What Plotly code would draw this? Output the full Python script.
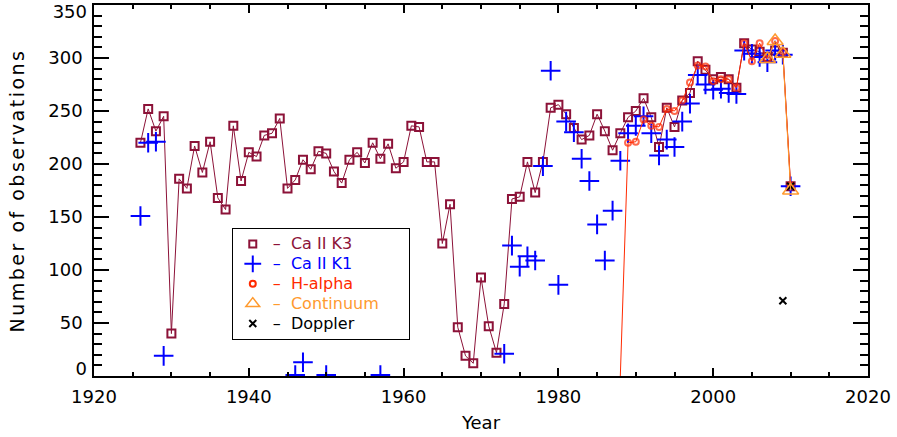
import plotly.graph_objects as go

# ---- data ----
k3_years = list(range(1926, 2011))
k3_obs = [220, 252, 231, 245, 40, 186, 177, 217, 192, 221,
          168, 157, 236, 184, 211, 207, 227, 229, 243, 177,
          185, 204, 195, 212, 210, 193, 182, 204, 211, 201,
          220, 205, 219, 196, 202, 236, 235, 202, 202, 125,
          162, 46, 19, 12, 93, 47, 22, 68, 167, 169,
          202, 173, 202, 253, 256, 247, 234, 223, 227, 247,
          231, 213, 229, 244, 250, 262, 244, 216, 253, 235,
          260, 267, 297, 289, 280, 282, 280, 272, 314, 308,
          306, 301, 307, 305, 179]

k1_years = [1926, 1927, 1928, 1929, 1946, 1947, 1950, 1957,
            1973, 1974, 1975, 1976, 1977, 1978, 1979, 1980, 1981, 1982,
            1983, 1984, 1985, 1986, 1987, 1988, 1989, 1990, 1991, 1992,
            1993, 1994, 1995, 1996, 1997, 1998, 1999, 2000, 2001, 2002,
            2003, 2004, 2005, 2006, 2007, 2008, 2009, 2010]
k1_obs = [151, 220, 221, 19, 1, 13, 1, 1,
          21, 123, 103, 113, 109, 198, 288, 86, 240, 230,
          205, 184, 143, 109, 156, 203, 229, 236, 245, 229,
          208, 223, 216, 240, 257, 284, 275, 270, 271, 267,
          266, 307, 304, 301, 296, 307, 303, 179]

ha_years = list(range(1988, 2011))
ha_obs = [0, 220, 221, 242, 236, 235, 252, 250, 260, 277,
          293, 292, 278, 280, 280, 272, 314, 297, 314, 299,
          316, 306, 180]

cont_years = [2007, 2008, 2009, 2010]
cont_obs = [299, 316, 304, 175]

dop_years = [2009, 2010]
dop_obs = [71, 179]

x_ticks = [1920, 1940, 1960, 1980, 2000, 2020]
y_ticks = [50, 100, 150, 200, 250, 300]

C_K3 = "#8C1238"
C_K1 = "#0000FF"
C_HA = "#FF2A00"
C_CO = "#FF9A2E"
C_DO = "#000000"

fig = go.Figure()

fig.add_trace(go.Scatter(
    x=k3_years, y=k3_obs, mode="lines+markers",
    line=dict(color=C_K3, width=1),
    marker=dict(symbol="square-open", size=8, color=C_K3, line=dict(width=2, color=C_K3)),
    showlegend=False))
fig.add_trace(go.Scatter(
    x=k1_years, y=k1_obs, mode="markers",
    marker=dict(symbol="cross-thin", size=14, color=C_K1, line=dict(width=2, color=C_K1)),
    showlegend=False))
# the first H-alpha point sits on the axis without a visible symbol
ha_sizes = [0] + [6] * (len(ha_years) - 1)
fig.add_trace(go.Scatter(
    x=ha_years, y=ha_obs, mode="lines+markers",
    line=dict(color=C_HA, width=1),
    marker=dict(symbol="circle-open", size=ha_sizes, color=C_HA, line=dict(width=2, color=C_HA)),
    showlegend=False))
fig.add_trace(go.Scatter(
    x=cont_years, y=cont_obs, mode="lines+markers", yaxis="y3",
    line=dict(color=C_CO, width=1),
    marker=dict(symbol="triangle-up-open", size=14, color=C_CO, line=dict(width=1.5, color=C_CO)),
    showlegend=False))
fig.add_trace(go.Scatter(
    x=dop_years, y=dop_obs, mode="markers", yaxis="y2",
    marker=dict(symbol="x-thin", size=7, color=C_DO, line=dict(width=2, color=C_DO)),
    showlegend=False))

# legend entries (symbol only, like the reference)
legend_items = [
    ("Ca II K3", C_K3, "square-open", 7, 2),
    ("Ca II K1", C_K1, "cross-thin", 12, 2),
    ("H-alpha", C_HA, "circle-open", 6, 2),
    ("Continuum", C_CO, "triangle-up-open", 12, 1.5),
    ("Doppler", C_DO, "x-thin", 7, 2),
]
pad = "&nbsp;" * 6
for name, col, sym, sz, lw in legend_items:
    fig.add_trace(go.Scatter(
        x=[None], y=[None], mode="markers",
        name=f"<span style='color:{col};font-size:16px'>–  {name}</span>{pad}",
        marker=dict(symbol=sym, size=sz, color=col, line=dict(width=lw, color=col)),
        showlegend=True))

FONT = "DejaVu Sans"
axis_common = dict(
    showline=True, linecolor="black", linewidth=1.5, mirror="ticks",
    ticks="inside", tickcolor="black", tickwidth=1.5,
    showgrid=False, zeroline=False, automargin=False,
    tickfont=dict(family=FONT, size=18, color="black"),
)

fig.update_layout(
    width=897, height=437,
    margin=dict(l=94, r=29, t=5, b=61),
    paper_bgcolor="white", plot_bgcolor="white",
    font=dict(family=FONT, size=18, color="black"),
    xaxis=dict(
        range=[1920, 2020], tickvals=x_ticks, ticklen=8,
        minor=dict(dtick=5, tick0=1920, ticklen=4, ticks="inside", tickcolor="black", tickwidth=1.5),
        ticklabelstandoff=4,
        title=dict(text="Year", font=dict(family=FONT, size=18), standoff=10),
        **axis_common),
    yaxis=dict(
        range=[0, 350], tickvals=y_ticks, ticklen=15,
        minor=dict(dtick=10, tick0=0, ticklen=8, ticks="inside", tickcolor="black", tickwidth=1.5),
        ticklabelstandoff=6,
        title=dict(text="<span style='letter-spacing:2.5px'>Number of observations</span>",
                   font=dict(family=FONT, size=19), standoff=19),
        **axis_common),
    yaxis2=dict(
        overlaying="y", side="left", range=[0, 350], tickvals=[0], ticktext=["0"],
        ticks="", showline=False, showgrid=False, zeroline=False, automargin=False,
        ticklabelshift=-7, ticklabelstandoff=6,
        tickfont=dict(family=FONT, size=18, color="black")),
    yaxis3=dict(
        overlaying="y", side="left", range=[0, 350], tickvals=[350], ticktext=["350"],
        ticks="", showline=False, showgrid=False, zeroline=False, automargin=False,
        ticklabelshift=7, ticklabelstandoff=6,
        tickfont=dict(family=FONT, size=18, color="black")),
    legend=dict(
        x=0.178, y=0.399, xanchor="left", yanchor="top",
        bordercolor="black", borderwidth=1, bgcolor="white",
        font=dict(family=FONT, size=13), tracegroupgap=0,
        itemsizing="trace"),
)

fig.write_html("out.html", config={"displayModeBar": False},
               post_script="document.body.style.margin='0';")
